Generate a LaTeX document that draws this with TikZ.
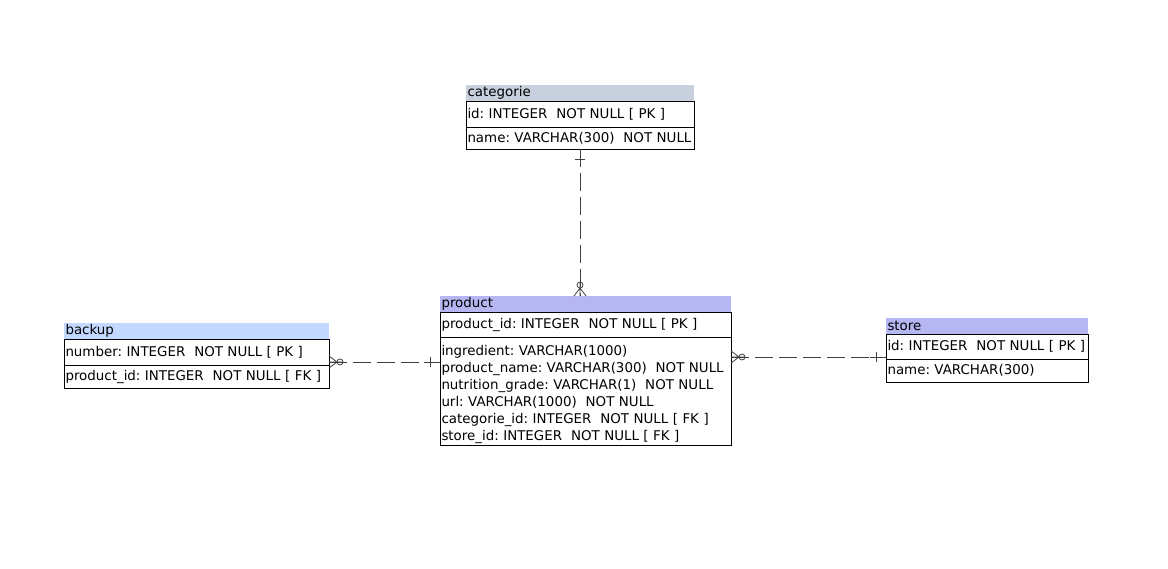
\documentclass[tikz,border=0pt]{standalone}
\usepackage{fontspec}
\setmainfont{DejaVu Sans}
\usetikzlibrary{positioning}
\frenchspacing

\definecolor{cathd}{RGB}{200,208,222}
\definecolor{prodhd}{RGB}{182,182,242}
\definecolor{bkhd}{RGB}{194,216,255}
\definecolor{connc}{RGB}{64,64,64}

\tikzset{
  tblhead/.style={fill=#1, anchor=north west, inner xsep=1.5pt, inner ysep=0pt,
    outer sep=0pt, minimum height=16pt, align=left},
  tblrow/.style={draw, line width=0.8pt, anchor=north west, inner xsep=1.5pt, inner ysep=0pt,
    outer sep=0pt, align=left},
  conn/.style={draw=connc, line width=0.8pt, dash pattern=on 18pt off 6pt},
  zeromany/.pic={
    \draw[connc, line width=0.8pt] (0,-6) -- (8,0) -- (0,6) (0,0) -- (14,0);
    \draw[connc, line width=0.8pt] (11,0) circle (3pt);
  },
  onebar/.pic={
    \draw[connc, line width=0.8pt] (0,0) -- (16,0) (10,-5) -- (10,5);
  }
}

\begin{document}
\begin{tikzpicture}[x=1pt,y=-1pt,font=\fontsize{13.4}{17}\selectfont]
\useasboundingbox[fill=white] (0,0) rectangle (1168,569);

% categorie
\node[tblhead=cathd, minimum width=228pt, text width=225pt] (cathead) at (466,85) {categorie};
\node[tblrow, minimum width=228pt, text width=225pt, minimum height=26pt] (catpk) at (cathead.south west) {id: INTEGER~~NOT NULL [ PK ]};
\node[tblrow, minimum width=228pt, text width=225pt, minimum height=22pt] (catattr) at (catpk.south west) {name: VARCHAR(300)~~NOT NULL};

% product
\node[tblhead=prodhd, minimum width=291pt, text width=288pt] (prodhead) at (440,296) {product};
\node[tblrow, minimum width=291pt, text width=288pt, minimum height=25pt] (prodpk) at (prodhead.south west) {product\_id: INTEGER~~NOT NULL [ PK ]};
\node[tblrow, minimum width=291pt, text width=288pt, minimum height=108pt] (prodattr) at (prodpk.south west) {\rule{0pt}{18pt}ingredient: VARCHAR(1000)\\
product\_name: VARCHAR(300)~~NOT NULL\\
nutrition\_grade: VARCHAR(1)~~NOT NULL\\
url: VARCHAR(1000)~~NOT NULL\\
categorie\_id: INTEGER~~NOT NULL [ FK ]\\
store\_id: INTEGER~~NOT NULL [ FK ]};

% backup
\node[tblhead=bkhd, minimum width=265pt, text width=262pt] (bkhead) at (64,323) {backup};
\node[tblrow, minimum width=265pt, text width=262pt, minimum height=26pt] (bkpk) at (bkhead.south west) {number: INTEGER~~NOT NULL [ PK ]};
\node[tblrow, minimum width=265pt, text width=262pt, minimum height=23pt] (bkattr) at (bkpk.south west) {product\_id: INTEGER~~NOT NULL [ FK ]};

% store
\node[tblhead=prodhd, minimum width=202pt, text width=199pt] (sthead) at (886,318) {store};
\node[tblrow, minimum width=202pt, text width=199pt, minimum height=25pt] (stpk) at (sthead.south west) {id: INTEGER~~NOT NULL [ PK ]};
\node[tblrow, minimum width=202pt, text width=199pt, minimum height=23pt] (stattr) at (stpk.south west) {name: VARCHAR(300)};

% links
\coordinate (catend) at (catattr.south);
\coordinate (prodtop) at (catattr.south |- prodhead.north);
\coordinate (bkend) at ([yshift=3pt]bkpk.south east);
\coordinate (prodleft) at (prodattr.west |- bkend);
\coordinate (stend) at ([yshift=2pt]stpk.south west);
\coordinate (prodright) at (prodattr.east |- stend);

\path[conn] (catend) -- (prodtop);
\path[conn] (bkend) -- (prodleft);
\path[conn] (prodright) -- (stend);

\pic[rotate=-90] at (catend) {onebar};
\pic[rotate=90] at (prodtop) {zeromany};
\pic at (bkend) {zeromany};
\pic[rotate=180] at (prodleft) {onebar};
\pic at (prodright) {zeromany};
\pic[rotate=180] at (stend) {onebar};
\end{tikzpicture}
\end{document}
